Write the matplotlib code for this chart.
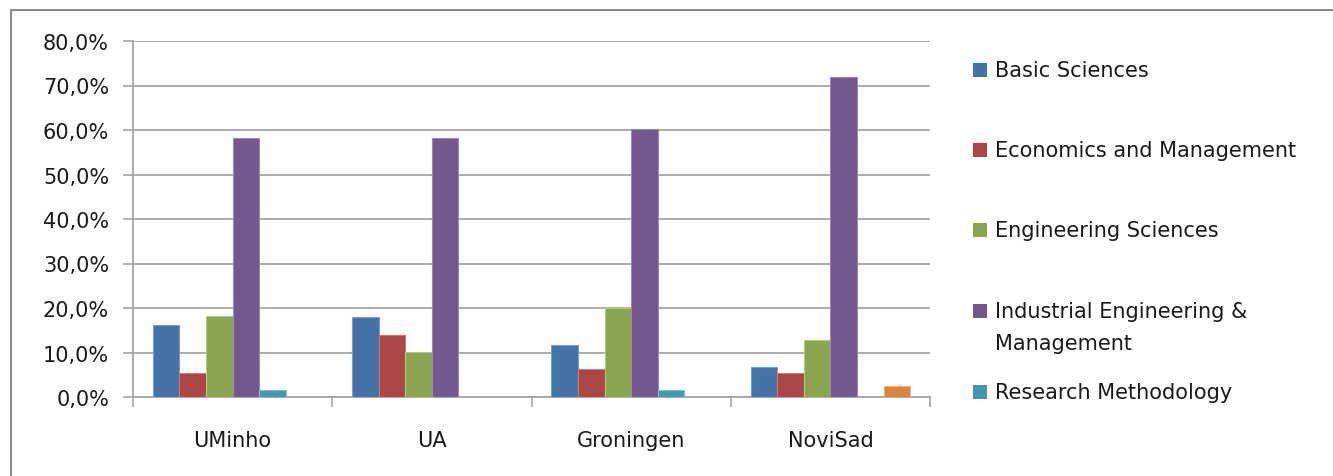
import matplotlib
matplotlib.use("Agg")
import matplotlib.pyplot as plt
from matplotlib.patches import Rectangle
import numpy as np

categories = ["UMinho", "UA", "Groningen", "NoviSad"]
series_names = ["Basic Sciences", "Economics and Management", "Engineering Sciences",
                "Industrial Engineering &\nManagement", "Research Methodology", "Other"]
basic_sciences = [16.2, 17.9, 11.6, 6.7]
economics_management = [5.5, 13.9, 6.4, 5.5]
engineering_sciences = [18.3, 10.1, 20.1, 12.7]
industrial_eng_mgmt = [58.1, 58.1, 60.3, 72.0]
research_methodology = [1.6, 0.0, 1.6, 0.0]
other = [0.0, 0.0, 0.0, 2.4]
y_ticks = [0, 10, 20, 30, 40, 50, 60, 70, 80]
y_tick_labels = ["0,0%", "10,0%", "20,0%", "30,0%", "40,0%", "50,0%", "60,0%", "70,0%", "80,0%"]

series = [basic_sciences, economics_management, engineering_sciences,
          industrial_eng_mgmt, research_methodology, other]
colors = ["#4572A7", "#AA4643", "#89A54E", "#71588F", "#4198AF", "#DB843D"]
edges = ["#7A9CC8", "#C97A78", "#B2C98A", "#9A87B3", "#7CC0D2", "#F0B080"]

FONT = "DejaVu Sans"
FS = 15
plt.rcParams["font.family"] = [FONT]

fig = plt.figure(figsize=(13.33, 4.77), dpi=100)
W, H = 1333, 477
ax = fig.add_axes([133 / W, 1 - 398 / H, (930 - 133) / W, (398 - 42) / H])

x = np.arange(len(categories))
n = len(series)
bw = 1 / 7.5
for j, (vals, c, ec) in enumerate(zip(series, colors, edges)):
    ax.bar(x + (j - (n - 1) / 2) * bw, vals, width=bw, color=c,
           edgecolor=ec, linewidth=0.8, zorder=3)

ax.set_xlim(-0.5, len(categories) - 0.5)
ax.set_ylim(0, 80)
ax.set_yticks(y_ticks)
ax.set_yticklabels(y_tick_labels)
ax.yaxis.grid(True, color="#A6A6A6", linewidth=1.3, zorder=0)
ax.set_axisbelow(True)

ax.set_xticks(x)
ax.set_xticklabels(categories)
ax.set_xticks(np.arange(len(categories) + 1) - 0.5, minor=True)
ax.tick_params(axis="x", which="major", length=0, pad=24, labelsize=FS, labelcolor="#1a1a1a")
ax.tick_params(axis="x", which="minor", length=10 * 0.72, width=1.2, color="#A6A6A6", direction="out")
ax.tick_params(axis="y", length=10 * 0.72, width=1.2, color="#A6A6A6", pad=10,
               labelsize=FS, labelcolor="#1a1a1a", direction="out")

for s in ["top", "right"]:
    ax.spines[s].set_visible(False)
for s in ["left", "bottom"]:
    ax.spines[s].set_color("#A6A6A6")
    ax.spines[s].set_linewidth(1.3)

# legend (manual, Excel-style; last series has no legend entry)
leg_y = [71, 151, 231, 312, 393]
for j in range(5):
    y = leg_y[j]
    fig.patches.append(Rectangle((973 / W, 1 - (y + 7) / H), 14 / W, 14 / H,
                                 transform=fig.transFigure, facecolor=colors[j],
                                 edgecolor="none", figure=fig))
    for k, ln in enumerate(series_names[j].split("\n")):
        fig.text(995 / W, 1 - (y + k * 32) / H, ln, fontsize=FS, color="#1a1a1a",
                 va="center", ha="left")

# outer chart border
fig.patches.append(Rectangle((11 / W, -0.1), 1.2, 1 - 11 / H + 0.1, transform=fig.transFigure,
                             facecolor="none", edgecolor="#8C8C8C", linewidth=1.5, figure=fig))

fig.savefig("out.png", dpi=100)
